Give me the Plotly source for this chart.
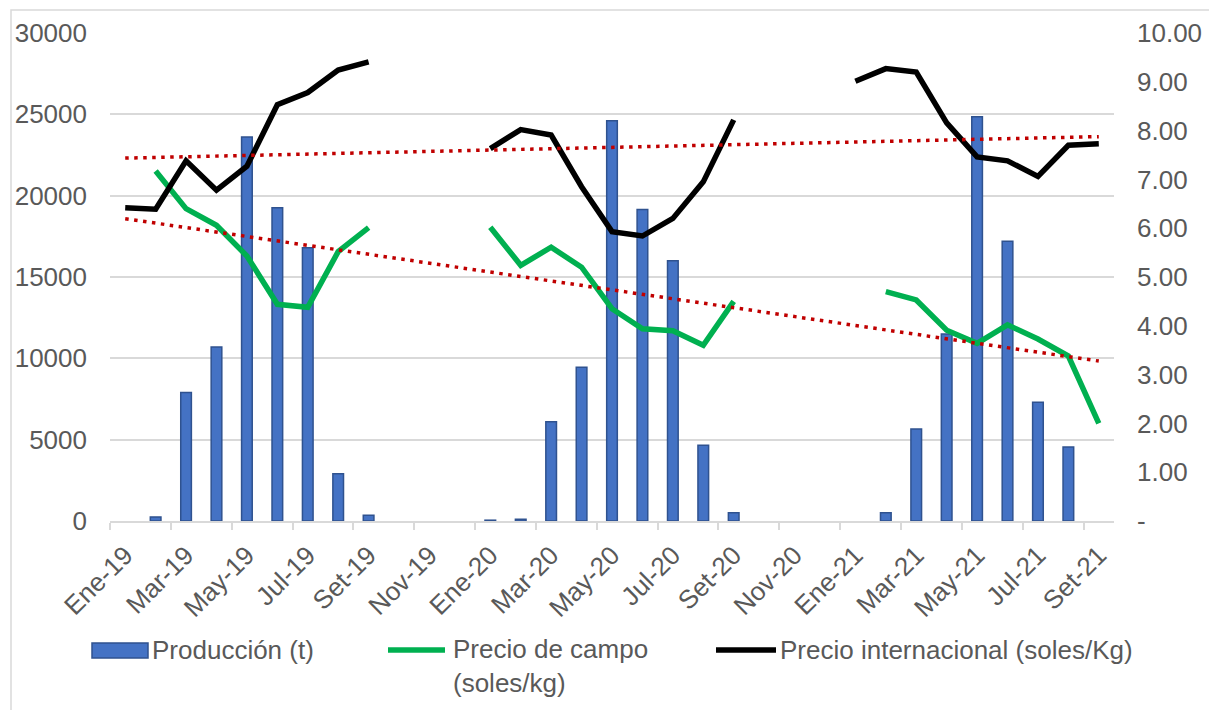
import numpy as np
import plotly.graph_objects as go

months = ["Ene-19", "Feb-19", "Mar-19", "Abr-19", "May-19", "Jun-19", "Jul-19", "Ago-19", "Set-19", "Oct-19", "Nov-19", "Dic-19",
          "Ene-20", "Feb-20", "Mar-20", "Abr-20", "May-20", "Jun-20", "Jul-20", "Ago-20", "Set-20", "Oct-20", "Nov-20", "Dic-20",
          "Ene-21", "Feb-21", "Mar-21", "Abr-21", "May-21", "Jun-21", "Jul-21", "Ago-21", "Set-21"]

# None = no data (blank cell)
produccion = [None, 250, 7900, 10700, 23600, 19250, 16800, 2900, 350, None, None, None,
              50, 100, 6100, 9450, 24600, 19150, 16000, 4650, 500, None, None, None,
              None, 500, 5650, 11500, 24850, 17200, 7300, 4550, None]

precio_campo = [None, 7.17, 6.40, 6.06, 5.43, 4.44, 4.38, 5.52, 6.01, None, None, None,
                6.02, 5.24, 5.61, 5.20, 4.35, 3.94, 3.90, 3.60, 4.50, None, None, None,
                None, 4.70, 4.53, 3.91, 3.64, 4.02, 3.73, 3.38, 2.00]

precio_internacional = [6.42, 6.39, 7.38, 6.78, 7.27, 8.53, 8.78, 9.24, 9.41, None, None, None,
                        7.63, 8.02, 7.91, 6.85, 5.93, 5.84, 6.20, 6.95, 8.22, None, None, None,
                        9.01, 9.27, 9.20, 8.16, 7.46, 7.38, 7.06, 7.70, 7.73]

left_ticks = [0, 5000, 10000, 15000, 20000, 25000, 30000]
right_ticks = [0, 1, 2, 3, 4, 5, 6, 7, 8, 9, 10]
right_ticktext = ["-", "1.00", "2.00", "3.00", "4.00", "5.00", "6.00", "7.00", "8.00", "9.00", "10.00"]

legend_names = ["Producción (t)", "Precio de campo<br>(soles/kg)", "Precio internacional (soles/Kg)"]

x = np.arange(len(months))


def linear_trend(values):
    xs = np.array([i for i, v in enumerate(values) if v is not None], dtype=float)
    ys = np.array([v for v in values if v is not None], dtype=float)
    m, b = np.polyfit(xs, ys, 1)
    return m * x + b


trend_campo = linear_trend(precio_campo)
trend_int = linear_trend(precio_internacional)

FONT = "Liberation Sans, Arial, sans-serif"
GRAY = "#595959"
FS = 26
BLUE = "#4472C4"
BLUE_EDGE = "#2F528F"
GREEN = "#00B050"
RED = "#C00000"

# plot area in pixels
L, R, T, B = 110, 1114, 33, 521
W, H = 1209, 710


def px(xp):
    return (xp - L) / (R - L)


def py(yp):
    return (B - yp) / (B - T)


fig = go.Figure()

fig.add_trace(go.Bar(
    x=x, y=produccion, name=legend_names[0],
    marker=dict(color=BLUE, line=dict(color=BLUE_EDGE, width=1.5)),
    width=0.35, yaxis="y", showlegend=False,
))
fig.add_trace(go.Scatter(
    x=x, y=precio_campo, name=legend_names[1], mode="lines",
    line=dict(color=GREEN, width=5.5), yaxis="y2", connectgaps=False, showlegend=False,
))
fig.add_trace(go.Scatter(
    x=x, y=precio_internacional, name=legend_names[2], mode="lines",
    line=dict(color="#000000", width=5.5), yaxis="y2", connectgaps=False, showlegend=False,
))
fig.add_trace(go.Scatter(
    x=x, y=trend_int, mode="lines", showlegend=False,
    line=dict(color=RED, width=3.5, dash="3.5px,5.5px"), yaxis="y2",
))
fig.add_trace(go.Scatter(
    x=x, y=trend_campo, mode="lines", showlegend=False,
    line=dict(color=RED, width=3.5, dash="3.5px,5.5px"), yaxis="y2",
))

shapes = [
    # chart border
    dict(type="rect", xref="paper", yref="paper",
         x0=px(11), x1=px(1260), y0=py(760), y1=py(10),
         line=dict(color="#D9D9D9", width=1.5), fillcolor="rgba(0,0,0,0)", layer="below"),
    # legend swatches
    dict(type="rect", xref="paper", yref="paper",
         x0=px(92), x1=px(148), y0=py(658), y1=py(643),
         line=dict(color=BLUE_EDGE, width=1.5), fillcolor=BLUE),
    dict(type="line", xref="paper", yref="paper",
         x0=px(388), x1=px(445), y0=py(650), y1=py(650),
         line=dict(color=GREEN, width=5.5)),
    dict(type="line", xref="paper", yref="paper",
         x0=px(716), x1=px(776), y0=py(650), y1=py(650),
         line=dict(color="#000000", width=5.5)),
]

annotations = [
    dict(text=legend_names[0], xref="paper", yref="paper", x=px(150), y=py(650),
         xanchor="left", yanchor="middle", showarrow=False, align="left",
         font=dict(family=FONT, size=FS, color=GRAY)),
    dict(text=legend_names[1], xref="paper", yref="paper", x=px(451), y=py(632),
         xanchor="left", yanchor="top", showarrow=False, align="left",
         font=dict(family=FONT, size=FS, color=GRAY)),
    dict(text=legend_names[2], xref="paper", yref="paper", x=px(778), y=py(650),
         xanchor="left", yanchor="middle", showarrow=False, align="left",
         font=dict(family=FONT, size=FS, color=GRAY)),
]

fig.update_layout(
    width=W, height=H,
    margin=dict(l=L, r=W - R, t=T, b=H - B),
    paper_bgcolor="white", plot_bgcolor="white",
    font=dict(family=FONT, size=FS, color=GRAY),
    showlegend=False,
    xaxis=dict(
        range=[-0.5, len(months) - 0.5], automargin=False,
        tickvals=x[::2], ticktext=months[::2], tickangle=-45,
        ticks="", showgrid=False, zeroline=False, ticklabelstandoff=7,
        showline=True, linecolor="#D9D9D9", linewidth=1.5,
        minor=dict(tick0=-0.5, dtick=2, ticks="outside", ticklen=7, tickcolor="#D9D9D9",
                   tickwidth=1.5, showgrid=False),
        tickfont=dict(family=FONT, size=FS, color=GRAY),
    ),
    yaxis=dict(
        range=[0, 30000], automargin=False,
        tickvals=left_ticks, ticktext=[str(v) for v in left_ticks],
        showgrid=True, gridcolor="#D9D9D9", gridwidth=1.5, zeroline=False,
        ticks="", ticklabelstandoff=22,
        tickfont=dict(family=FONT, size=FS, color=GRAY),
    ),
    yaxis2=dict(
        range=[0, 10], overlaying="y", side="right", automargin=False,
        tickvals=right_ticks, ticktext=right_ticktext,
        showgrid=False, zeroline=False, ticks="", ticklabelstandoff=22,
        tickfont=dict(family=FONT, size=FS, color=GRAY),
    ),
    shapes=shapes,
    annotations=annotations,
)

fig.write_html("out.html", config={"displayModeBar": False},
               post_script="document.body.style.margin='0px';")
